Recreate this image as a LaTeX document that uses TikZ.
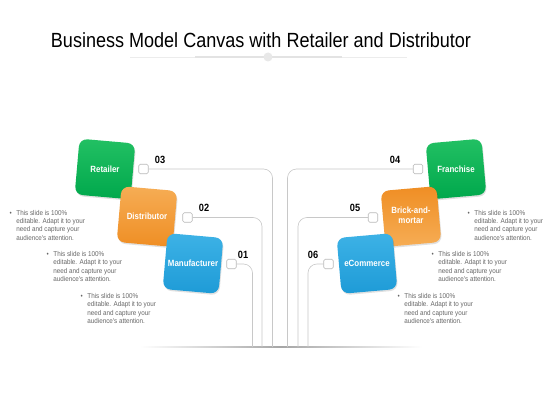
\documentclass[tikz,border=0pt]{standalone}
\usepackage{fontspec}
\setmainfont{Liberation Sans}
\newfontfamily\condf[FakeStretch=0.88]{Liberation Sans}
\newfontfamily\descf[FakeStretch=0.9]{Liberation Sans}
\usetikzlibrary{shadows}
\definecolor{gA}{HTML}{22C063}
\definecolor{gB}{HTML}{00A84C}
\definecolor{oA}{HTML}{F6AD55}
\definecolor{oB}{HTML}{EF8E24}
\definecolor{bA}{HTML}{3DB2E6}
\definecolor{bB}{HTML}{1E9BD7}
\definecolor{txtg}{HTML}{666666}
\definecolor{lineg}{HTML}{C8C8C8}
\begin{document}
\begin{tikzpicture}[x=1pt,y=-1pt,
  cbox/.style={rounded corners=8pt, minimum size=56pt, inner sep=0pt, text=white, align=center,
    font=\condf\bfseries\fontsize{9}{10.5}\selectfont,
    general shadow={fill=black, opacity=0.12, shadow xshift=0.8pt, shadow yshift=-1.5pt}},
  sq/.style={draw=gray!55, fill=white, rounded corners=1.5pt, minimum size=9.5pt, inner sep=0pt, line width=0.6pt},
  num/.style={font=\condf\bfseries\fontsize{10.5}{12}\selectfont, text=black},
  conn/.style={draw=lineg, line width=0.6pt, rounded corners=9pt},
  desc/.style={anchor=north west, inner sep=0pt, text=txtg, font=\descf\fontsize{7}{8.4}\selectfont}
]
\useasboundingbox (0,0) rectangle (560,420);
\fill[white] (0,0) rectangle (560,420);

% title
\node[font=\condf\fontsize{20.5}{24}\selectfont] (title) at (261,40) {Business Model Canvas with Retailer and Distributor};
\draw[gray!15, line width=0.6pt] (130,57) -- (407,57);
\draw[gray!22, line width=1.3pt] (195,57) -- (342,57);
\fill[gray!18] (268,57) circle (4.5);

% bottom line
\shade[left color=white, right color=gray!70] (140,346.4) rectangle (281,347.8);
\shade[left color=gray!70, right color=white] (281,346.4) rectangle (422,347.8);

% connector end coordinates
\coordinate (b1) at (252.5,347);
\coordinate (b2) at (262,347);
\coordinate (b3) at (272.5,347);
\coordinate (b4) at (287.5,347);
\coordinate (b5) at (298,347);
\coordinate (b6) at (308,347);

% squares
\node[sq] (s3) at (143.5,169) {};
\node[sq] (s2) at (187.5,217.5) {};
\node[sq] (s1) at (231.5,264) {};
\node[sq] (s4) at (418,169) {};
\node[sq] (s5) at (373,217.5) {};
\node[sq] (s6) at (328.5,264) {};

\draw[conn] (s3.east) -| (b3);
\draw[conn] (s2.east) -| (b2);
\draw[conn] (s1.east) -| (b1);
\draw[conn] (s4.west) -| (b4);
\draw[conn] (s5.west) -| (b5);
\draw[conn] (s6.west) -| (b6);

% numbers
\node[num] (n3) at (160,160) {03};
\node[num] (n2) at (204,208) {02};
\node[num] (n1) at (243,254.5) {01};
\node[num] (n4) at (395,160) {04};
\node[num] (n5) at (355,208) {05};
\node[num] (n6) at (313,254.5) {06};

% boxes left (shape tilted, text level)
\node[cbox, rotate=-5, top color=gA, bottom color=gB] (retailer) at (105,169) {\rotatebox{5}{Retailer}};
\node[cbox, rotate=-5, top color=oA, bottom color=oB] (distributor) at (147,216.5) {\rotatebox{5}{Distributor}};
\node[cbox, rotate=-5, top color=bA, bottom color=bB] (manufacturer) at (193,263.5) {\rotatebox{5}{Manufacturer}};
% boxes right
\node[cbox, rotate=5, top color=gA, bottom color=gB] (franchise) at (456,169) {\rotatebox{-5}{Franchise}};
\node[cbox, rotate=5, top color=oB, bottom color=oA] (brick) at (411,216.5) {\rotatebox{-5}{\begin{tabular}{@{}c@{}}Brick-and-\\[-1pt]mortar\end{tabular}}};
\node[cbox, rotate=5, top color=bA, bottom color=bB] (ecommerce) at (367,263.5) {\rotatebox{-5}{eCommerce}};

% descriptions
\newcommand{\desctext}{\begin{tabular}{@{}l@{\hspace{4.5pt}}l@{}}\textbullet & This slide is 100\%\\ & editable. Adapt it to your\\ & need and capture your\\ & audience's attention.\end{tabular}}
\node[desc] (d1) at (9.5,209) {\desctext};
\node[desc] (d2) at (46.5,250.5) {\desctext};
\node[desc] (d3) at (80.5,292.5) {\desctext};
\node[desc] (d4) at (467.5,209) {\desctext};
\node[desc] (d5) at (431.5,250.5) {\desctext};
\node[desc] (d6) at (397.5,292.5) {\desctext};
\end{tikzpicture}
\end{document}
